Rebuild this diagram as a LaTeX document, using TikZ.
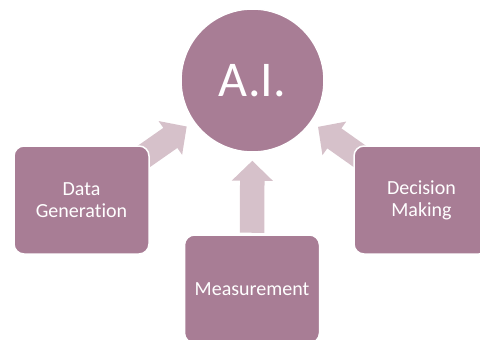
\documentclass[tikz,border=0pt]{standalone}
\usepackage{fontspec}
\setmainfont{Carlito}[Ligatures=NoCommon]
\usetikzlibrary{arrows.meta,backgrounds}
\definecolor{mauve}{HTML}{A87D95}
\definecolor{lightmauve}{HTML}{D6C1CA}
\begin{document}
\begin{tikzpicture}[x=1pt,y=-1pt]
		\tikzset{recstyle/.style={rectangle, fill=mauve, draw=white, line width=1.5pt, minimum width=135pt, minimum height=108pt, inner sep=0pt, rounded corners=10pt, text=white, align=center, font=\fontsize{20}{22}\selectfont}}
		\tikzset{circstyle/.style={circle, fill=mauve, draw=white, line width=1.5pt, minimum size=143pt, inner sep=0pt, text=white, font=\fontsize{50}{56}\selectfont}}
		\tikzset{arrstyle/.style={draw=lightmauve, line width=24.5pt, -{Triangle[length=20pt,width=40pt]}, shorten >=8pt}}
		
		\useasboundingbox (0,0) rectangle (480,340);
		
		\node[circstyle] (circai) at (252.5,80.5) {A.I.};
		\node[recstyle] (rectdata) at (81.5,200) {Data\\Generation};
		\node[recstyle] (rectmeasure) at (252,289) {Measurement};
		\node[recstyle] (rectdecision) at (421.5,200) {Decision\\Making};
		
		\begin{scope}[on background layer]
		\draw [arrstyle] (rectdata.center) to (circai);
		\draw [arrstyle, shorten <=1.5pt] (rectmeasure) to (circai);
		\draw [arrstyle] (rectdecision.center) to (circai);
		\end{scope}
		
		\end{tikzpicture}
\end{document}
